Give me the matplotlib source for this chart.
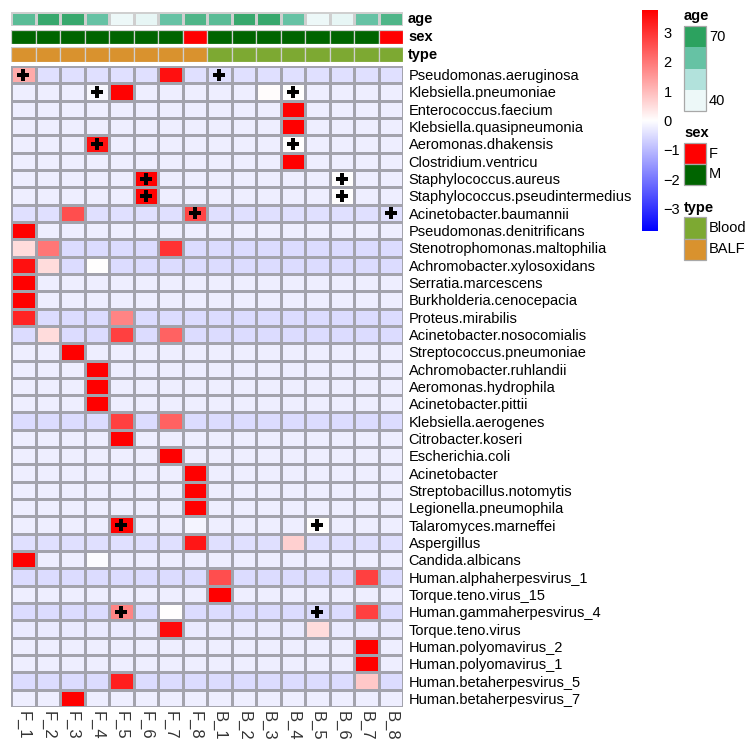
import numpy as np
import matplotlib
matplotlib.use("Agg")
import matplotlib.pyplot as plt
from matplotlib import font_manager
from matplotlib.colors import LinearSegmentedColormap
from matplotlib.patches import Rectangle

# the reference text looks vertically stretched: a narrow face at a larger size mimics that
names = {f.name for f in font_manager.fontManager.ttflist}
if "Liberation Sans Narrow" in names:
    lab_font, lab_size = "Liberation Sans Narrow", 12.5
else:
    lab_font, lab_size = "Liberation Sans", 10.5
plt.rcParams['font.family'] = [lab_font, 'DejaVu Sans']

samples = ["F_1", "F_2", "F_3", "F_4", "F_5", "F_6", "F_7", "F_8",
           "B_1", "B_2", "B_3", "B_4", "B_5", "B_6", "B_7", "B_8"]
species = ["Pseudomonas.aeruginosa", "Klebsiella.pneumoniae", "Enterococcus.faecium",
           "Klebsiella.quasipneumonia", "Aeromonas.dhakensis", "Clostridium.ventricu",
           "Staphylococcus.aureus", "Staphylococcus.pseudintermedius", "Acinetobacter.baumannii",
           "Pseudomonas.denitrificans", "Stenotrophomonas.maltophilia", "Achromobacter.xylosoxidans",
           "Serratia.marcescens", "Burkholderia.cenocepacia", "Proteus.mirabilis",
           "Acinetobacter.nosocomialis", "Streptococcus.pneumoniae", "Achromobacter.ruhlandii",
           "Aeromonas.hydrophila", "Acinetobacter.pittii", "Klebsiella.aerogenes",
           "Citrobacter.koseri", "Escherichia.coli", "Acinetobacter",
           "Streptobacillus.notomytis", "Legionella.pneumophila", "Talaromyces.marneffei",
           "Aspergillus", "Candida.albicans", "Human.alphaherpesvirus_1",
           "Torque.teno.virus_15", "Human.gammaherpesvirus_4", "Torque.teno.virus",
           "Human.polyomavirus_2", "Human.polyomavirus_1", "Human.betaherpesvirus_5",
           "Human.betaherpesvirus_7"]

# row background (scaled value of the zero cells)
row_base = [-0.45, -0.25, -0.25, -0.25, -0.25, -0.25, -0.25, -0.25, -0.45,
            -0.25, -0.5, -0.5, -0.25, -0.25, -0.5, -0.5, -0.25, -0.25,
            -0.25, -0.25, -0.5, -0.25, -0.25, -0.25, -0.25, -0.25, -0.25,
            -0.45, -0.25, -0.5, -0.25, -0.5, -0.3, -0.25, -0.25, -0.5, -0.25]

# (row, column, scaled value)
hits = [(0, 0, 1.25), (0, 6, 3.5),
        (1, 3, -0.1), (1, 4, 3.7), (1, 10, 0.05), (1, 11, 0.0),
        (2, 11, 3.75), (3, 11, 3.75),
        (4, 3, 3.5), (4, 11, 0.0), (5, 11, 3.75),
        (6, 5, 3.7), (6, 13, 0.0), (7, 5, 3.7), (7, 13, 0.0),
        (8, 2, 2.6), (8, 7, 2.7),
        (9, 0, 3.75),
        (10, 0, 0.5), (10, 1, 2.0), (10, 6, 3.0),
        (11, 0, 3.5), (11, 1, 0.5), (11, 3, 0.0),
        (12, 0, 3.75), (13, 0, 3.75),
        (14, 0, 3.2), (14, 4, 1.8),
        (15, 1, 0.5), (15, 4, 2.8), (15, 6, 2.3),
        (16, 2, 3.75), (17, 3, 3.75), (18, 3, 3.75), (19, 3, 3.75),
        (20, 4, 2.8), (20, 6, 2.3),
        (21, 4, 3.75), (22, 6, 3.75),
        (23, 7, 3.75), (24, 7, 3.75), (25, 7, 3.75),
        (26, 4, 3.75), (26, 7, -0.15), (26, 12, 0.0),
        (27, 7, 3.4), (27, 11, 0.7),
        (28, 0, 3.75), (28, 3, -0.05),
        (29, 8, 2.6), (29, 14, 2.8),
        (30, 8, 3.75),
        (31, 4, 1.8), (31, 6, 0.0), (31, 14, 2.8),
        (32, 6, 3.6), (32, 12, 0.5),
        (33, 14, 3.75), (34, 14, 3.75),
        (35, 4, 3.3), (35, 14, 0.8),
        (36, 2, 3.75)]

crosses = [(0, 0), (0, 8), (1, 3), (1, 11), (4, 3), (4, 11), (6, 5), (6, 13),
           (7, 5), (7, 13), (8, 7), (8, 15), (26, 4), (26, 12), (31, 4), (31, 12)]

age = [62, 68, 68, 60, 40, 41, 60, 64, 62, 68, 68, 60, 40, 41, 60, 64]
sex = ["M", "M", "M", "M", "M", "M", "M", "F", "M", "M", "M", "M", "M", "M", "M", "F"]
sample_type = ["BALF"] * 8 + ["Blood"] * 8

nr, nc = len(species), len(samples)
mat = np.array([[row_base[i]] * nc for i in range(nr)])
for r, c, v in hits:
    mat[r, c] = v

W, H = 750, 742
fig = plt.figure(figsize=(W / 100, H / 100), dpi=100)

def px_axes(x0, y0, x1, y1):
    return fig.add_axes([x0 / W, 1 - y1 / H, (x1 - x0) / W, (y1 - y0) / H])

cmap = LinearSegmentedColormap.from_list("bwr2", ["#0000FF", "#FFFFFF", "#FF0000"])
vmin, vmax = -3.75, 3.75
grid_col = "#a3a3ad"

hx0, hx1 = 11, 403
ax = px_axes(hx0, 66, hx1, 707)
ax.pcolormesh(mat, cmap=cmap, vmin=vmin, vmax=vmax, edgecolors=grid_col, linewidth=0.9)
ax.set_xlim(0, nc)
ax.set_ylim(nr, 0)
for r, c in crosses:
    ax.plot(c + 0.5, r + 0.5, marker="P", color="black", markersize=9, markeredgewidth=0)
ax.set_yticks(np.arange(nr) + 0.5)
ax.set_yticklabels(species, fontsize=lab_size)
ax.yaxis.tick_right()
ax.set_xticks(np.arange(nc) + 0.5)
ax.set_xticklabels(samples, rotation=-90, fontsize=12, color="#333333",
                   family=["Liberation Sans", "DejaVu Sans"])
ax.tick_params(axis="y", length=0, pad=4)
ax.tick_params(axis="x", length=0, pad=3)
for s in ax.spines.values():
    s.set_visible(False)

# annotation rows
age_cmap = LinearSegmentedColormap.from_list("age", ["#edf8f8", "#b2e2dc", "#66c2a4", "#2ca25f"])
sex_colors = {"F": "#FF0000", "M": "#006400"}
type_colors = {"Blood": "#7da932", "BALF": "#d9922e"}
annot_rows = [("age", 12, 26), ("sex", 30, 44), ("type", 47, 62)]
for name, y0, y1 in annot_rows:
    a = px_axes(hx0, y0, hx1, y1)
    if name == "age":
        a.pcolormesh(np.array([age]), cmap=age_cmap, vmin=40, vmax=70,
                     edgecolors="#cfcfcf", linewidth=0.9)
    else:
        lut = sex_colors if name == "sex" else type_colors
        vals = sex if name == "sex" else sample_type
        for i, v in enumerate(vals):
            a.add_patch(Rectangle((i, 0), 1, 1, facecolor=lut[v], edgecolor="#cfcfcf", lw=0.9))
    a.set_xlim(0, nc)
    a.set_ylim(0, 1)
    a.set_xticks([])
    a.set_yticks([])
    for s in a.spines.values():
        s.set_visible(False)
    fig.text(408 / W, 1 - ((y0 + y1) / 2) / H, name, fontsize=lab_size, fontweight="bold",
             va="center", ha="left")

# colour scale
cax = px_axes(642, 10, 658, 231)
grad = np.linspace(vmax, vmin, 256).reshape(-1, 1)
cax.imshow(grad, cmap=cmap, vmin=vmin, vmax=vmax, aspect="auto",
           extent=[0, 1, vmin, vmax])
cax.set_xticks([])
cax.yaxis.tick_right()
cax.set_yticks([-3, -2, -1, 0, 1, 2, 3])
cax.set_yticklabels(["\u22123", "\u22122", "\u22121", "0", "1", "2", "3"], fontsize=lab_size)
cax.tick_params(length=0, pad=4)
for s in cax.spines.values():
    s.set_visible(False)

# annotation legends
lg = px_axes(680, 0, 750, 270)
lg.set_xlim(680, 750)
lg.set_ylim(270, 0)
lg.axis("off")
bx0, bx1 = 684, 706
lg.text(684, 16, "age", fontsize=lab_size, fontweight="bold", va="center", ha="left")
age_blocks = [70, 60, 50, 40]
for k, v in enumerate(age_blocks):
    y0 = 26 + k * 21.25
    lg.add_patch(Rectangle((bx0, y0), bx1 - bx0, 21.25, facecolor=age_cmap((v - 40) / 30),
                           edgecolor="none"))
lg.add_patch(Rectangle((bx0, 26), bx1 - bx0, 85, facecolor="none", edgecolor="#a8a8a8", lw=0.9))
lg.text(709, 37, "70", fontsize=lab_size, va="center", ha="left")
lg.text(709, 101, "40", fontsize=lab_size, va="center", ha="left")

lg.text(684, 133, "sex", fontsize=lab_size, fontweight="bold", va="center", ha="left")
for k, v in enumerate(["F", "M"]):
    y0 = 143 + k * 21
    lg.add_patch(Rectangle((bx0, y0), bx1 - bx0, 21, facecolor=sex_colors[v],
                           edgecolor="#a8a8a8", lw=0.9))
    lg.text(709, y0 + 10.5, v, fontsize=lab_size, va="center", ha="left")

lg.text(684, 208, "type", fontsize=lab_size, fontweight="bold", va="center", ha="left")
for k, v in enumerate(["Blood", "BALF"]):
    y0 = 217 + k * 21.5
    lg.add_patch(Rectangle((bx0, y0), bx1 - bx0, 21.5, facecolor=type_colors[v],
                           edgecolor="#a8a8a8", lw=0.9))
    lg.text(709, y0 + 10.5, v, fontsize=lab_size, va="center", ha="left")

fig.savefig("out.png", dpi=100)
